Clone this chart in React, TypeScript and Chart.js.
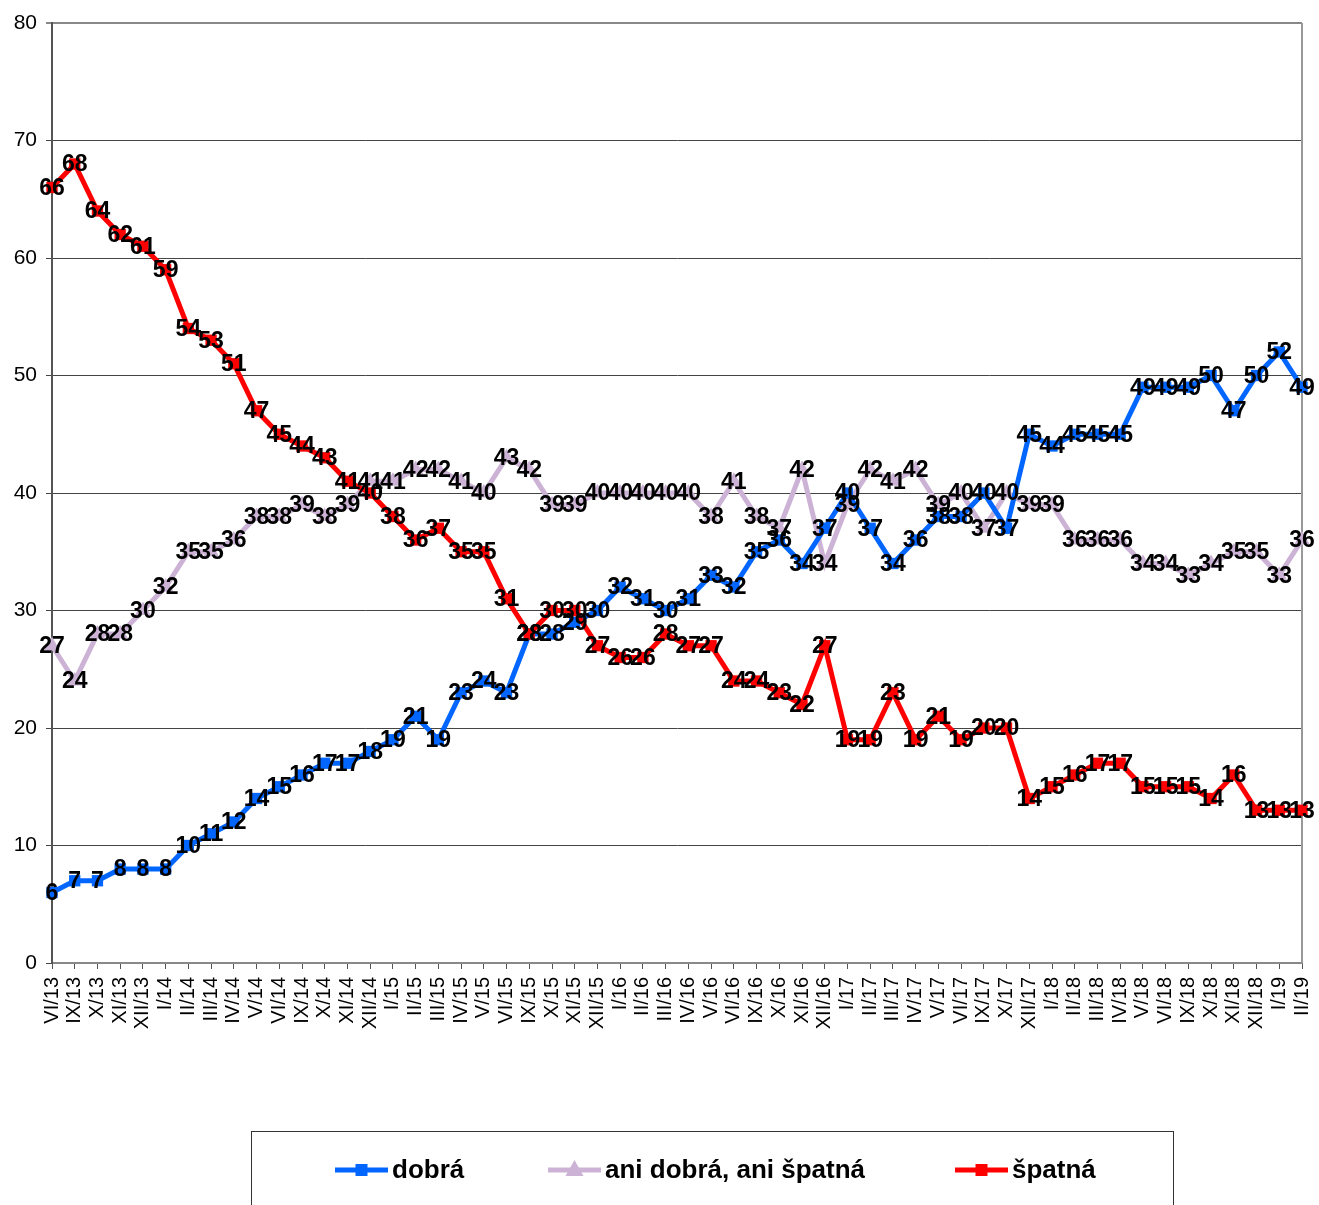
import React, { useEffect, useRef } from "react";
import { Chart, registerables } from "chart.js";

Chart.register(...registerables);

const categories = [
  "VI/13", "IX/13", "X/13", "XI/13", "XII/13", "I/14", "II/14", "III/14", "IV/14", "V/14",
  "VI/14", "IX/14", "X/14", "XI/14", "XII/14", "I/15", "II/15", "III/15", "IV/15", "V/15",
  "VI/15", "IX/15", "X/15", "XI/15", "XII/15", "I/16", "II/16", "III/16", "IV/16", "V/16",
  "VI/16", "IX/16", "X/16", "XI/16", "XII/16", "I/17", "II/17", "III/17", "IV/17", "V/17",
  "VI/17", "IX/17", "X/17", "XII/17", "I/18", "II/18", "III/18", "IV/18", "V/18", "VI/18",
  "IX/18", "X/18", "XI/18", "XII/18", "I/19", "II/19",
];

const dobra = [
  6, 7, 7, 8, 8, 8, 10, 11, 12, 14,
  15, 16, 17, 17, 18, 19, 21, 19, 23, 24,
  23, 28, 28, 29, 30, 32, 31, 30, 31, 33,
  32, 35, 36, 34, 37, 40, 37, 34, 36, 38,
  38, 40, 37, 45, 44, 45, 45, 45, 49, 49,
  49, 50, 47, 50, 52, 49,
];

const ani = [
  27, 24, 28, 28, 30, 32, 35, 35, 36, 38,
  38, 39, 38, 39, 41, 41, 42, 42, 41, 40,
  43, 42, 39, 39, 40, 40, 40, 40, 40, 38,
  41, 38, 37, 42, 34, 39, 42, 41, 42, 39,
  40, 37, 40, 39, 39, 36, 36, 36, 34, 34,
  33, 34, 35, 35, 33, 36,
];

const spatna = [
  66, 68, 64, 62, 61, 59, 54, 53, 51, 47,
  45, 44, 43, 41, 40, 38, 36, 37, 35, 35,
  31, 28, 30, 30, 27, 26, 26, 28, 27, 27,
  24, 24, 23, 22, 27, 19, 19, 23, 19, 21,
  19, 20, 20, 14, 15, 16, 17, 17, 15, 15,
  15, 14, 16, 13, 13, 13,
];

const yTicks = [0, 10, 20, 30, 40, 50, 60, 70, 80];

const seriesNames = ["dobrá", "ani dobrá, ani špatná", "špatná"];
const BLUE = "#0066FF";
const LILAC = "#CCB3D6";
const RED = "#FF0000";
const FONT = "'Liberation Sans', Arial, sans-serif";

const dataLabelsPlugin = {
  id: "dataLabels",
  afterDatasetsDraw(chart: any) {
    const ctx = chart.ctx;
    ctx.save();
    ctx.font = `bold 23px ${FONT}`;
    ctx.fillStyle = "#000";
    ctx.textAlign = "center";
    ctx.textBaseline = "middle";
    const drawOrder = [1, 0, 2];
    for (const di of drawOrder) {
      const meta = chart.getDatasetMeta(di);
      const ds = chart.data.datasets[di];
      meta.data.forEach((pt: any, i: number) => {
        ctx.fillText(String(ds.data[i]), pt.x, pt.y + 1);
      });
    }
    ctx.restore();
  },
};

const framePlugin = {
  id: "frame",
  beforeDatasetsDraw(chart: any) {
    const { ctx, chartArea } = chart;
    ctx.save();
    ctx.strokeStyle = "#999";
    ctx.lineWidth = 2;
    ctx.beginPath();
    ctx.moveTo(chartArea.right, chartArea.top);
    ctx.lineTo(chartArea.right, chartArea.bottom);
    ctx.stroke();
    ctx.restore();
  },
};

const legendPlugin = {
  id: "customLegend",
  afterDraw(chart: any) {
    const ctx = chart.ctx;
    ctx.save();
    ctx.strokeStyle = "#333";
    ctx.lineWidth = 1;
    ctx.strokeRect(251.5, 1131.5, 922, 120);
    const items = [
      { x: 335, color: BLUE, style: "rect", label: seriesNames[0] },
      { x: 548, color: LILAC, style: "triangle", label: seriesNames[1] },
      { x: 955, color: RED, style: "rect", label: seriesNames[2] },
    ];
    const y = 1170;
    for (const it of items) {
      ctx.strokeStyle = it.color;
      ctx.fillStyle = it.color;
      ctx.lineWidth = 5;
      ctx.beginPath();
      ctx.moveTo(it.x, y);
      ctx.lineTo(it.x + 53, y);
      ctx.stroke();
      const cx = it.x + 26.5;
      if (it.style === "rect") {
        ctx.fillRect(cx - 6, y - 6, 12, 12);
      } else {
        ctx.beginPath();
        ctx.moveTo(cx, y - 10);
        ctx.lineTo(cx + 9, y + 6);
        ctx.lineTo(cx - 9, y + 6);
        ctx.closePath();
        ctx.fill();
      }
      ctx.fillStyle = "#000";
      ctx.font = `bold 26px ${FONT}`;
      ctx.textAlign = "left";
      ctx.textBaseline = "middle";
      ctx.fillText(it.label, it.x + 57, y + 1);
    }
    ctx.restore();
  },
};

export default function App() {
  const ref = useRef<HTMLCanvasElement | null>(null);

  useEffect(() => {
    if (!ref.current) return;
    const chart = new Chart(ref.current, {
      type: "line",
      data: {
        labels: categories,
        datasets: [
          {
            label: seriesNames[0],
            data: dobra,
            borderColor: BLUE,
            backgroundColor: BLUE,
            borderWidth: 5,
            pointStyle: "rect",
            pointRadius: 8,
            pointBorderWidth: 0,
            tension: 0,
            order: 1,
          },
          {
            label: seriesNames[1],
            data: ani,
            borderColor: LILAC,
            backgroundColor: LILAC,
            borderWidth: 5,
            pointStyle: "triangle",
            pointRadius: 9,
            pointBorderWidth: 0,
            tension: 0,
            order: 2,
          },
          {
            label: seriesNames[2],
            data: spatna,
            borderColor: RED,
            backgroundColor: RED,
            borderWidth: 5,
            pointStyle: "rect",
            pointRadius: 8,
            pointBorderWidth: 0,
            tension: 0,
            order: 0,
          },
        ],
      },
      options: {
        responsive: false,
        animation: false,
        devicePixelRatio: 1,
        layout: { padding: { top: 23, right: 17, left: 0, bottom: 0 } },
        plugins: {
          legend: { display: false },
          tooltip: { enabled: false },
        },
        scales: {
          x: {
            type: "category",
            offset: false,
            grid: {
              display: true,
              drawOnChartArea: false,
              drawTicks: true,
              tickLength: 6,
              color: "#555",
            },
            border: { display: true, color: "#888", width: 2 },
            ticks: {
              autoSkip: false,
              maxRotation: 90,
              minRotation: 90,
              color: "#000",
              padding: 8,
              font: { family: FONT, size: 20 },
            },
            afterFit(scale: any) {
              scale.height = 242;
              scale.paddingLeft = 0;
              scale.paddingRight = 0;
            },
          },
          y: {
            min: yTicks[0],
            max: yTicks[yTicks.length - 1],
            afterBuildTicks(scale: any) {
              scale.ticks = yTicks.map((v) => ({ value: v }));
            },
            grid: {
              color: (c: any) => (c.tick && c.tick.value === 80 ? "#888" : "#444"),
              lineWidth: (c: any) => (c.tick && c.tick.value === 80 ? 2 : 1),
              tickLength: 6,
              drawTicks: true,
            },
            border: { display: true, color: "#555", width: 2 },
            ticks: {
              color: "#000",
              padding: 9,
              font: { family: FONT, size: 21 },
            },
            afterFit(scale: any) {
              scale.width = 52;
              scale.paddingTop = 0;
              scale.paddingBottom = 0;
            },
          },
        },
      },
      plugins: [framePlugin, dataLabelsPlugin, legendPlugin],
    } as any);
    return () => chart.destroy();
  }, []);

  return (
    <div style={{ position: "fixed", left: 0, top: 0, width: 1319, height: 1205, background: "#fff" }}>
      <canvas ref={ref} width={1319} height={1205} style={{ width: 1319, height: 1205, display: "block" }} />
    </div>
  );
}
